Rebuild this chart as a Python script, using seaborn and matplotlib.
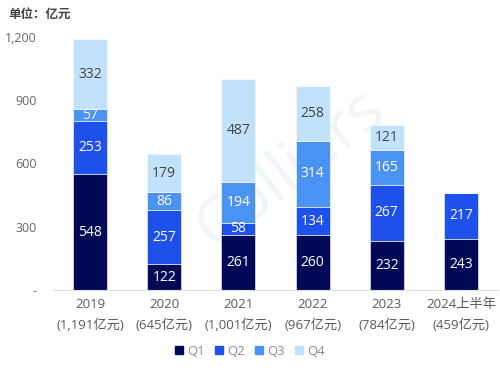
import matplotlib
matplotlib.use("Agg")
import matplotlib.pyplot as plt
import seaborn as sns
import numpy as np
import pandas as pd
from matplotlib.lines import Line2D

categories = ["2019\n(1,191亿元)", "2020\n(645亿元)", "2021\n(1,001亿元)",
              "2022\n(967亿元)", "2023\n(784亿元)", "2024上半年\n(459亿元)"]
q1 = [548, 122, 261, 260, 232, 243]
q2 = [253, 257, 58, 134, 267, 217]
q3 = [57, 86, 194, 314, 165, 0]
q4 = [332, 179, 487, 258, 121, 0]
series_names = ["Q1", "Q2", "Q3", "Q4"]
colors = ["#020a58", "#1e50ea", "#4b93f2", "#c2e2fb"]
label_colors = ["white", "white", "white", "#444444"]
yticks = [0, 300, 600, 900, 1200]
ytick_labels = ["-", "300", "600", "900", "1,200"]

sns.set_theme(style="white")
plt.rcParams['font.family'] = ['Open Sans', 'Noto Sans CJK SC', 'DejaVu Sans']

fig = plt.figure(figsize=(5, 3.82), dpi=100)
ax = fig.add_axes([0.106, 0.241, 0.89, 0.662])

# faint watermark behind the bars
ax.text(0.58, 0.56, "Colliers", fontsize=46, color="#f1f4f9", rotation=38,
        ha="center", va="center", zorder=0.1, transform=fig.transFigure)

data = [q1, q2, q3, q4]
bottom = np.zeros(len(categories))
df_base = pd.DataFrame({"cat": categories})
for name, vals, col, lc in zip(series_names, data, colors, label_colors):
    df = df_base.copy()
    df["val"] = vals
    sns.barplot(data=df, x="cat", y="val", ax=ax, color=col, bottom=bottom,
                width=0.46, edgecolor="white", linewidth=0.4, label=name,
                saturation=1, zorder=2)
    for i, v in enumerate(vals):
        if v > 0:
            ax.text(i, bottom[i] + v / 2, f"{v}", ha="center", va="center",
                    fontsize=10, color=lc, zorder=5)
    bottom = bottom + np.array(vals)

ax.set_ylim(0, 1200)
ax.set_xlim(-0.5, 5.5)
ax.set_yticks(yticks)
ax.set_yticklabels(ytick_labels, fontsize=9, color="#666666")
ax.tick_params(axis="y", length=0, pad=12)
ax.tick_params(axis="x", length=0, pad=6)
for t in ax.get_xticklabels():
    t.set_fontsize(9.5)
    t.set_color("#595959")
    t.set_linespacing(1.7)
ax.set_xlabel("")
ax.set_ylabel("")
for s in ["top", "right", "left"]:
    ax.spines[s].set_visible(False)
ax.spines["bottom"].set_color("#e0e0e0")
ax.spines["bottom"].set_linewidth(0.8)

fig.text(0.016, 0.963, "单位：亿元", fontsize=9, color="#444444",
         ha="left", va="center", fontweight="bold")

hs = [Line2D([0], [0], marker="s", color="none", markerfacecolor=c,
             markeredgecolor=c, markersize=5.5) for c in colors]
fig.legend(hs, series_names, loc="center", bbox_to_anchor=(0.5, 0.08),
           ncol=4, frameon=False, fontsize=9.5, handlelength=0.6,
           handletextpad=0.3, columnspacing=0.8, labelcolor="#8c8c8c")
if ax.get_legend():
    ax.get_legend().remove()

fig.savefig("out.png", dpi=100)
